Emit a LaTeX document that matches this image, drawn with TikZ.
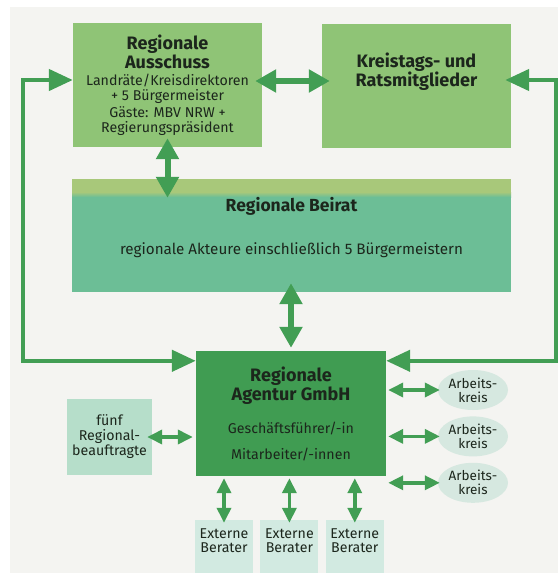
\documentclass[tikz,border=0pt]{standalone}
\usepackage{fontspec}
\setmainfont{Fira Sans}
\usetikzlibrary{shapes.geometric,positioning,arrows.meta}
\definecolor{paper}{RGB}{244,244,241}
\definecolor{ausgreen}{RGB}{143,196,118}
\definecolor{beiratgreen}{RGB}{108,190,150}
\definecolor{bandgreen}{RGB}{168,200,122}
\definecolor{agenturgreen}{RGB}{64,156,82}
\definecolor{arrowgreen}{RGB}{66,158,84}
\definecolor{beauftragtgreen}{RGB}{182,222,202}
\definecolor{beratergreen}{RGB}{210,234,225}
\definecolor{kreisgreen}{RGB}{214,232,224}
\definecolor{textdark}{RGB}{28,38,28}
\newcommand{\tightlines}{\lineskiplimit=-20pt\relax}
\tikzset{
    box/.style={rectangle, inner sep=0pt, align=center, text=textdark, font={\fontsize{14.2}{15}\selectfont\tightlines}},
    kreis/.style={ellipse, fill=kreisgreen, inner sep=0pt, minimum width=70pt, minimum height=40pt, align=center, text=textdark, font={\fontsize{13.5}{14}\selectfont\tightlines}},
    bigarrow/.style={draw=arrowgreen, line width=6pt, {Triangle[length=21pt,width=22pt]}-{Triangle[length=21pt,width=22pt]}},
    smallarrow/.style={draw=arrowgreen, line width=3.5pt, {Triangle[length=15pt,width=14pt]}-{Triangle[length=15pt,width=14pt]}},
    loopline/.style={draw=arrowgreen, line width=4.5pt, {Triangle[length=24pt,width=21pt]}-{Triangle[length=24pt,width=21pt]}},
}
\newcommand{\boxtitle}[1]{{\bfseries\fontsize{18}{18}\selectfont #1}}
\begin{document}
\begin{tikzpicture}[x=1pt, y=-1pt]
    \fill[white] (0,0) rectangle (558,573);
    \fill[paper] (10,7) rectangle (558,573);
    \useasboundingbox (0,0) rectangle (558,573);

    \node[box, fill=ausgreen, minimum width=189pt, minimum height=124pt] (ausschuss) at (167.5,85)
        {\boxtitle{Regionale}\\[4pt]\boxtitle{Ausschuss}\\[2pt]Landräte/Kreisdirektoren\\+ 5 Bürgermeister\\[2pt]Gäste: MBV NRW +\\Regierungspräsident};
    \node[box, fill=ausgreen, minimum width=189pt, minimum height=124pt, text depth=32pt] (kreistag) at (416.5,86)
        {\boxtitle{Kreistags- und}\\[4pt]\boxtitle{Ratsmitglieder}};
    \node[box, fill=beiratgreen, minimum width=439pt, minimum height=113pt, text depth=19pt,
        path picture={
            \fill[bandgreen] (path picture bounding box.north west) rectangle ([yshift=-13pt]path picture bounding box.north east);
            \shade[top color=bandgreen, bottom color=beiratgreen] ([yshift=-13pt]path picture bounding box.north west) rectangle ([yshift=-18pt]path picture bounding box.north east);
        }] (beirat) at (291.5,235.5)
        {{\bfseries\fontsize{17.5}{18}\selectfont Regionale Beirat}\\[28pt]{\fontsize{15.2}{15}\selectfont regionale Akteure einschließlich 5 Bürgermeistern}};
    \node[box, fill=agenturgreen, minimum width=190pt, minimum height=125pt] (agentur) at (291,413.5)
        {\boxtitle{Regionale}\\[4pt]\boxtitle{Agentur GmbH}\\[18pt]Geschäftsführer/-in\\[11pt]Mitarbeiter/-innen};
    \node[box, fill=beauftragtgreen, minimum width=85pt, minimum height=76pt] (beauftragte) at (109.5,437)
        {fünf\\Regional-\\beauftragte};

    \node[box, fill=beratergreen, minimum width=58pt, minimum height=53pt, text depth=12pt] (berater1) at (224,546.5) {Externe\\[-1pt]Berater};
    \node[box, fill=beratergreen, minimum width=58pt, minimum height=53pt, text depth=12pt, right=7pt of berater1] (berater2) {Externe\\[-1pt]Berater};
    \node[box, fill=beratergreen, minimum width=58pt, minimum height=53pt, text depth=12pt, right=7pt of berater2] (berater3) {Externe\\[-1pt]Berater};

    \node[kreis] (kreis1) at (473,390) {Arbeits-\\kreis};
    \node[kreis, below=6pt of kreis1] (kreis2) {Arbeits-\\kreis};
    \node[kreis, below=6pt of kreis2] (kreis3) {Arbeits-\\kreis};

    \coordinate (leftbend) at (23,200);
    \coordinate (rightbend) at (556,200);

    \draw[loopline] ([yshift=-10pt]agentur.north west) -| (leftbend) |- ([yshift=5pt]ausschuss.west);
    \draw[loopline, shorten >=-6pt] ([yshift=-10pt]agentur.north east) -| (rightbend) |- ([yshift=6pt]kreistag.east);

    \draw[bigarrow, shorten <=-7pt, shorten >=-8pt] ([yshift=4pt]ausschuss.east) -- ([yshift=4pt]ausschuss.east -| kreistag.west);
    \draw[bigarrow, shorten <=-9pt, shorten >=-19pt] (ausschuss.south) -- (ausschuss.south |- beirat.north);
    \draw[bigarrow, shorten <=-9pt, shorten >=3pt] (agentur.north |- beirat.south) -- (agentur.north);

    \draw[smallarrow, shorten <=-5pt, shorten >=3pt] (beauftragte.east) -- (beauftragte.east -| agentur.west);
    \foreach \i in {1,2,3} {
        \draw[smallarrow, shorten <=2pt, shorten >=-3pt] (berater\i.north |- agentur.south) -- (berater\i.north);
        \draw[smallarrow, shorten <=2pt, shorten >=-2pt] (kreis\i.west -| agentur.east) -- (kreis\i.west);
    }
\end{tikzpicture}
\end{document}
